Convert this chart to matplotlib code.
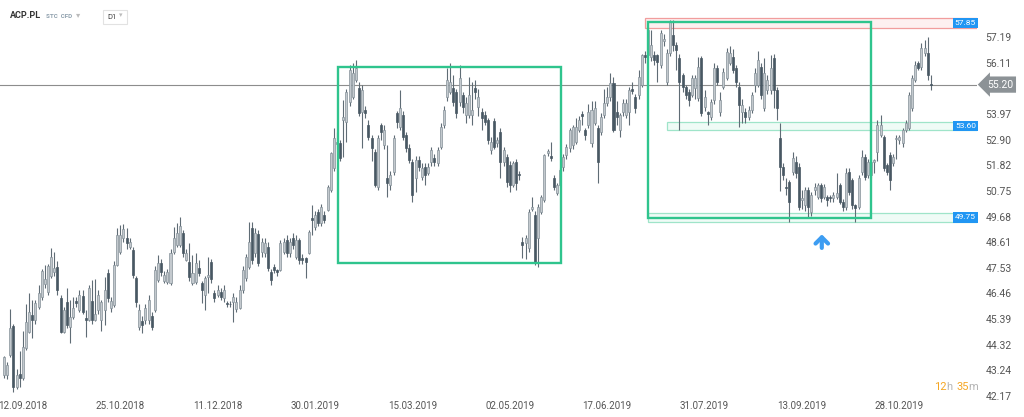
import matplotlib
matplotlib.use("Agg")
import matplotlib.pyplot as plt
from matplotlib.patches import Rectangle

plt.rcParams['font.family'] = ['Roboto', 'DejaVu Sans']

# daily candles ACP.PL, 04.09.2018 .. 08.11.2019
opens = [
    43.05, 43.05, 43.89, 45.10, 42.55, 43.09, 42.92, 44.18, 44.85, 45.56,
    45.35, 45.89, 46.31, 46.86, 46.52, 47.19, 47.36, 47.57, 46.27, 44.85,
    46.10, 45.06, 45.48, 46.14, 45.77, 46.35, 45.43, 45.35, 46.14, 45.35,
    45.77, 45.35, 45.77, 47.32, 45.85, 45.98, 47.65, 48.19, 48.78, 48.78,
    48.40, 48.28, 47.11, 45.06, 45.31, 45.35, 45.35, 45.52, 45.77, 47.02,
    47.73, 46.98, 46.94, 46.90, 48.19, 48.49, 48.49, 48.99, 47.86, 47.78,
    46.90, 46.94, 47.53, 46.90, 46.40, 47.15, 47.78, 46.48, 46.40, 46.52,
    46.27, 46.05, 46.04, 46.10, 45.81, 45.85, 46.61, 47.11, 47.57, 49.20,
    48.15, 48.95, 48.19, 48.15, 48.40, 47.36, 47.57, 47.44, 47.44, 48.19,
    48.70, 48.15, 48.78, 47.99, 48.70, 47.94, 47.94, 48.15, 49.62, 49.24,
    49.87, 49.41, 49.74, 49.95, 50.79, 51.71, 52.72, 52.76, 53.72, 53.63,
    54.47, 54.68, 55.39, 55.06, 54.05, 54.14, 53.51, 52.96, 52.38, 50.91,
    53.51, 52.67, 51.29, 51.00, 51.54, 54.01, 53.43, 53.93, 53.09, 52.55,
    51.96, 51.29, 52.04, 51.33, 51.75, 51.50, 51.96, 52.13, 51.92, 52.59,
    53.51, 54.68, 54.89, 55.06, 54.89, 54.47, 54.76, 53.93, 53.93, 53.93,
    55.06, 54.26, 54.05, 53.93, 53.72, 52.46, 53.67, 52.76, 53.22, 51.96,
    52.17, 51.84, 51.00, 51.96, 51.46, 48.61, 48.57, 48.36, 50.00, 49.74,
    48.78, 49.87, 50.37, 52.34, 52.20, 51.29, 50.66, 51.00, 51.75, 52.25,
    52.55, 52.67, 52.80, 53.30, 53.97, 53.30, 53.51, 52.76, 53.59, 53.38,
    53.22, 53.93, 54.43, 54.68, 55.27, 54.05, 53.30, 54.05, 53.93, 54.05,
    55.00, 54.68, 54.76, 55.18, 56.44, 56.44, 56.35, 56.44, 56.44, 56.02,
    57.03, 55.31, 56.52, 57.27, 56.86, 56.31, 55.60, 55.10, 54.89, 54.76,
    55.06, 54.64, 56.31, 54.26, 54.05, 53.84, 54.55, 55.89, 54.05, 55.10,
    55.48, 56.10, 56.35, 55.89, 55.10, 54.05, 54.05, 53.84, 54.14, 55.18,
    55.18, 55.94, 54.22, 54.97, 54.97, 56.31, 54.97, 52.96, 51.75, 50.91,
    51.12, 51.54, 51.96, 51.75, 50.37, 50.16, 50.79, 49.87, 50.79, 50.50,
    51.00, 50.50, 50.50, 50.50, 50.45, 50.50, 51.00, 50.29, 50.08, 51.54,
    51.21, 50.16, 50.08, 51.54, 52.17, 51.42, 51.42, 51.96, 52.38, 53.09,
    53.01, 51.84, 52.25, 51.92, 52.92, 52.88, 52.76, 53.30, 53.38, 54.22,
    55.39, 56.10, 55.94, 56.52, 56.52, 55.22,
]
highs = [
    43.85, 43.60, 45.80, 45.20, 43.30, 44.05, 44.90, 46.02, 46.48, 46.20,
    46.20, 46.81, 47.50, 47.65, 47.70, 48.36, 48.19, 47.82, 46.40, 45.90,
    46.69, 46.19, 46.30, 46.30, 46.61, 46.61, 45.77, 46.80, 47.02, 47.07,
    46.61, 46.20, 47.15, 47.50, 46.30, 47.80, 49.20, 49.33, 49.37, 49.20,
    48.80, 48.40, 47.20, 46.00, 45.50, 46.00, 46.40, 45.70, 47.60, 48.07,
    47.90, 47.40, 47.50, 48.30, 49.24, 49.41, 49.66, 49.10, 48.30, 48.57,
    48.07, 48.15, 47.86, 47.00, 47.20, 47.99, 47.90, 46.60, 46.80, 46.70,
    46.80, 46.15, 46.15, 46.50, 46.30, 46.80, 47.60, 48.10, 49.45, 49.45,
    49.20, 49.10, 48.80, 48.80, 48.60, 47.50, 47.70, 47.50, 48.70, 48.80,
    48.90, 48.80, 49.00, 48.90, 48.80, 48.10, 48.00, 49.10, 50.16, 49.90,
    50.00, 50.20, 49.90, 51.00, 52.40, 53.38, 53.20, 52.90, 54.55, 55.00,
    56.00, 56.10, 56.23, 55.30, 55.20, 54.30, 53.70, 53.10, 52.50, 53.10,
    53.60, 53.50, 52.67, 51.60, 53.10, 54.10, 54.97, 54.10, 53.20, 52.70,
    52.10, 52.20, 52.20, 51.90, 51.90, 51.90, 52.60, 52.30, 52.60, 53.60,
    54.30, 55.90, 56.10, 55.60, 55.00, 56.00, 54.90, 54.70, 55.50, 55.30,
    55.40, 55.00, 54.20, 54.10, 53.80, 53.00, 53.80, 53.00, 53.40, 52.60,
    52.30, 52.00, 52.00, 52.10, 51.60, 48.82, 48.90, 50.00, 50.50, 49.90,
    50.20, 50.60, 52.30, 52.50, 52.80, 51.40, 51.10, 51.70, 52.30, 52.70,
    53.40, 53.50, 53.80, 53.90, 54.10, 53.40, 54.40, 54.50, 54.50, 53.50,
    54.00, 55.00, 55.10, 55.68, 55.50, 54.50, 54.00, 54.60, 54.60, 55.10,
    55.30, 54.80, 55.80, 56.50, 56.60, 57.60, 57.50, 56.60, 56.50, 57.50,
    57.30, 56.70, 57.90, 57.90, 57.00, 56.50, 55.70, 55.20, 55.00, 55.60,
    55.60, 56.35, 56.40, 54.97, 54.10, 54.60, 56.10, 56.00, 54.90, 55.90,
    56.73, 56.80, 56.70, 56.00, 55.30, 54.60, 54.20, 54.30, 54.90, 55.90,
    56.60, 56.10, 56.30, 55.60, 56.44, 56.50, 55.10, 53.60, 51.90, 51.30,
    51.20, 52.38, 52.20, 51.90, 50.80, 50.90, 50.90, 50.70, 51.10, 51.10,
    51.10, 51.05, 50.60, 50.60, 50.70, 51.50, 51.10, 50.40, 51.70, 51.70,
    51.30, 50.20, 51.40, 52.46, 52.30, 52.10, 52.10, 52.10, 53.70, 53.93,
    53.10, 51.90, 52.40, 52.30, 53.10, 53.10, 53.40, 53.70, 54.90, 55.60,
    56.20, 56.20, 56.94, 57.07, 57.20, 55.60,
]
lows = [
    42.92, 42.90, 43.80, 42.34, 42.45, 42.55, 42.85, 44.10, 44.80, 44.60,
    45.20, 45.80, 46.20, 46.70, 46.40, 47.10, 47.20, 46.40, 44.80, 44.80,
    45.00, 44.39, 45.40, 45.90, 45.70, 45.60, 44.64, 45.30, 45.20, 45.30,
    45.60, 44.90, 45.14, 46.10, 45.70, 45.90, 47.60, 48.10, 48.60, 48.30,
    48.30, 47.10, 45.90, 44.95, 44.81, 45.20, 45.20, 44.95, 45.70, 46.95,
    47.20, 46.90, 46.85, 46.80, 48.10, 48.40, 48.40, 48.00, 47.80, 47.00,
    46.80, 46.85, 47.20, 46.06, 45.77, 46.50, 46.90, 46.10, 46.30, 46.20,
    46.10, 45.90, 45.90, 45.27, 45.70, 45.80, 46.50, 47.00, 47.50, 47.70,
    48.00, 47.60, 48.00, 48.00, 47.40, 46.80, 47.30, 47.20, 47.40, 48.10,
    48.00, 48.00, 48.30, 47.90, 47.70, 47.70, 47.11, 48.10, 48.91, 49.10,
    49.30, 49.30, 49.40, 49.90, 50.70, 51.60, 52.50, 52.00, 52.17, 52.80,
    54.30, 54.60, 55.30, 53.90, 52.55, 53.80, 52.90, 52.00, 50.90, 50.80,
    52.90, 52.50, 50.50, 50.80, 51.40, 53.40, 53.30, 52.90, 52.40, 51.90,
    50.29, 50.70, 51.60, 51.20, 51.00, 51.40, 51.80, 51.80, 51.80, 52.50,
    53.40, 54.50, 54.80, 54.30, 53.80, 54.30, 54.00, 53.60, 53.80, 53.50,
    54.60, 53.90, 53.30, 53.50, 52.70, 52.30, 52.50, 52.60, 51.30, 51.80,
    50.90, 50.70, 50.90, 50.80, 51.20, 47.94, 47.90, 48.20, 49.90, 47.65,
    47.57, 49.80, 50.30, 52.20, 52.00, 50.80, 50.60, 50.90, 51.60, 52.10,
    52.40, 52.50, 52.70, 53.20, 53.50, 52.90, 53.40, 52.60, 53.50, 51.08,
    53.10, 53.80, 54.30, 54.50, 53.20, 53.50, 53.00, 53.90, 53.80, 53.50,
    54.80, 54.00, 54.60, 55.10, 56.10, 56.30, 56.20, 56.00, 55.30, 55.90,
    56.80, 55.20, 56.40, 56.60, 55.80, 53.30, 54.90, 54.60, 54.30, 54.70,
    54.60, 54.50, 53.90, 54.10, 53.50, 53.70, 54.40, 55.20, 53.90, 55.00,
    55.40, 56.00, 55.70, 55.10, 53.43, 53.60, 53.59, 53.70, 54.00, 54.90,
    55.10, 54.60, 54.10, 54.80, 54.80, 54.22, 53.70, 50.75, 51.20, 50.60,
    49.45, 51.40, 51.30, 49.95, 50.00, 49.90, 49.66, 49.70, 50.60, 50.40,
    50.30, 50.40, 50.10, 50.30, 50.30, 50.40, 50.20, 49.90, 49.95, 50.60,
    50.00, 49.45, 50.00, 51.40, 51.20, 51.30, 51.30, 51.50, 52.00, 53.00,
    51.60, 51.40, 50.79, 51.80, 52.10, 52.70, 52.60, 53.20, 53.30, 54.10,
    55.30, 55.80, 55.80, 56.40, 55.40, 54.97,
]
closes = [
    43.80, 43.47, 45.02, 42.55, 43.05, 42.92, 44.22, 45.27, 45.68, 45.35,
    46.06, 46.48, 47.40, 47.07, 47.61, 47.99, 47.53, 46.61, 44.85, 45.77,
    45.14, 45.48, 45.85, 46.06, 46.40, 45.68, 45.35, 46.69, 45.35, 45.60,
    46.40, 46.10, 46.61, 46.27, 46.14, 47.65, 48.91, 48.91, 49.16, 48.57,
    48.61, 47.23, 46.10, 45.77, 45.14, 45.85, 46.19, 45.06, 47.44, 47.73,
    47.36, 47.23, 47.36, 48.15, 48.78, 48.99, 49.28, 48.15, 48.15, 47.15,
    47.32, 47.73, 47.32, 46.61, 47.11, 47.23, 47.07, 46.27, 46.61, 46.31,
    46.61, 46.02, 46.00, 46.31, 46.10, 46.61, 47.44, 47.99, 48.61, 47.86,
    48.99, 47.73, 48.61, 48.57, 47.53, 47.02, 47.44, 47.36, 48.57, 48.61,
    48.15, 48.61, 48.49, 48.70, 47.86, 47.86, 47.78, 49.03, 49.55, 49.74,
    49.41, 50.08, 49.53, 50.91, 52.34, 52.96, 52.80, 52.13, 53.84, 54.89,
    55.81, 55.68, 55.89, 54.01, 54.97, 54.01, 53.01, 52.55, 51.00, 52.96,
    53.22, 53.30, 51.08, 51.42, 52.96, 53.63, 54.22, 53.01, 52.55, 52.04,
    50.58, 52.04, 51.75, 51.71, 51.42, 51.75, 52.46, 51.96, 52.46, 53.43,
    54.14, 55.39, 55.31, 54.47, 54.01, 55.48, 54.26, 54.43, 54.76, 54.14,
    54.89, 54.68, 53.80, 53.63, 52.88, 52.80, 52.59, 52.88, 51.96, 52.46,
    51.12, 51.00, 51.92, 51.08, 51.40, 48.49, 48.78, 49.87, 50.08, 47.73,
    50.08, 50.50, 52.25, 52.42, 52.14, 50.91, 51.00, 51.63, 52.17, 52.59,
    53.30, 53.43, 53.43, 53.72, 53.90, 53.09, 54.05, 54.14, 54.22, 51.96,
    53.84, 54.43, 54.68, 55.27, 53.30, 53.84, 53.93, 54.43, 54.43, 54.97,
    54.93, 54.22, 55.52, 56.44, 56.35, 57.48, 56.86, 56.23, 56.14, 57.36,
    57.10, 56.52, 57.86, 56.86, 56.65, 55.31, 55.10, 54.76, 54.55, 55.48,
    55.48, 55.94, 54.01, 54.68, 53.97, 54.47, 55.89, 55.31, 54.55, 55.73,
    56.56, 56.52, 55.81, 55.31, 54.34, 54.34, 53.84, 54.14, 54.76, 55.68,
    56.23, 54.76, 55.68, 55.39, 55.89, 54.97, 54.22, 51.75, 51.42, 50.87,
    50.29, 52.13, 51.50, 50.08, 50.45, 50.79, 50.08, 50.58, 50.91, 51.00,
    50.45, 50.91, 50.37, 50.45, 50.58, 50.66, 50.29, 50.08, 51.50, 50.71,
    50.16, 50.04, 51.29, 52.17, 51.33, 51.96, 51.96, 52.04, 53.51, 53.51,
    51.71, 51.54, 51.21, 52.17, 52.96, 53.01, 53.30, 53.59, 54.76, 55.48,
    56.02, 55.89, 56.73, 56.73, 55.60, 55.20,
]

date_labels = ['12.09.2018', '25.10.2018', '11.12.2018', '30.01.2019', '15.03.2019',
               '02.05.2019', '17.06.2019', '31.07.2019', '13.09.2019', '28.10.2019']
date_bars = [6, 37, 68, 99, 130, 161, 192, 223, 254, 285]
price_ticks = [42.17, 43.24, 44.32, 45.39, 46.46, 47.53, 48.61, 49.68,
               50.75, 51.82, 52.90, 53.97, 56.11, 57.19]
last_price = 55.20

# levels marked on the chart
levels = {'57.85': (204, 57.58, 57.99, 'red'),
          '53.60': (211, 53.30, 53.65, 'green'),
          '49.75': (205, 49.45, 49.83, 'green')}
boxes = [(106.3, 177.3, 47.73, 55.94), (205.0, 275.9, 49.62, 57.82)]

fig = plt.figure(figsize=(10.24, 4.17), dpi=100)
ax = fig.add_axes([0, 19 / 417, 977 / 1024, 398 / 417])

x = list(range(len(closes)))
up_c = '#c3c9ce'
up_e = '#86929a'
dn_c = '#485863'
wick = '#5f6c75'

ax.vlines(x, lows, highs, color=wick, linewidth=0.8, zorder=2)
for i in x:
    o, c = opens[i], closes[i]
    bottom = min(o, c)
    h = max(abs(c - o), 0.04)
    if c >= o:
        ax.bar(i, h, bottom=bottom, width=0.64, color=up_c, edgecolor=up_e,
               linewidth=0.5, zorder=3)
    else:
        ax.bar(i, h, bottom=bottom, width=0.64, color=dn_c, edgecolor=dn_c,
               linewidth=0.5, zorder=3)

# zones
for name, (start, lo, hi, kind) in levels.items():
    if kind == 'red':
        fc, ec = '#fdf0f0', '#f19d9d'
    else:
        fc, ec = '#effbf6', '#9fe4c9'
    ax.add_patch(Rectangle((start, lo), 309.7 - start, hi - lo, facecolor=fc,
                           edgecolor=ec, linewidth=0.9, zorder=1))
    ax.text(0.999, (lo + hi) / 2, name, transform=ax.get_yaxis_transform(),
            ha='right', va='center', fontsize=6, color='white', zorder=6,
            bbox=dict(boxstyle='square,pad=0.25', fc='#2196f3', ec='none'))

# rectangles drawn by the analyst
for x0, x1, y0, y1 in boxes:
    ax.add_patch(Rectangle((x0, y0), x1 - x0, y1 - y0, fill=False,
                           edgecolor='#2fc48d', linewidth=1.7, zorder=4))

ax.axhline(last_price, color='#8d8d8d', linewidth=0.8, zorder=1)
ax.text(1.01, last_price, '%.2f' % last_price, transform=ax.get_yaxis_transform(),
        ha='left', va='center', fontsize=7.5, color='white', clip_on=False,
        bbox=dict(boxstyle='larrow,pad=0.3', fc='#8c9296', ec='none'))

ax.annotate('', xy=(260.3, 49.05), xytext=(260.3, 48.25),
            arrowprops=dict(arrowstyle='->,head_width=0.45,head_length=0.45',
                            color='#3d9df2', lw=3))

ax.set_xlim(-1.27, 309.7)
ax.set_ylim(42.086, 58.74)
ax.set_xticks(date_bars)
ax.set_xticklabels(date_labels)
ax.yaxis.tick_right()
ax.set_yticks(price_ticks)
ax.set_yticklabels(['%.2f' % p for p in price_ticks])
ax.tick_params(axis='both', length=0, labelsize=7.5, colors='#555555')
ax.tick_params(axis='x', pad=2, labelsize=7)
ax.tick_params(axis='y', pad=6)
for s in ax.spines.values():
    s.set_visible(False)

# header
fig.text(10 / 1024, 1 - 16 / 417, 'ACP.PL', fontsize=6.5, fontweight='bold',
         color='#333333', va='center')
fig.text(46 / 1024, 1 - 16 / 417, 'STC  CFD', fontsize=4.5, fontweight='bold',
         color='#8fa0ad', va='center')
fig.text(76 / 1024, 1 - 15 / 417, '\u25be', fontsize=6, color='#bbbbbb', va='center')
fig.add_artist(Rectangle((103 / 1024, 1 - 24 / 417), 24 / 1024, 14 / 417,
                         transform=fig.transFigure, fill=False,
                         edgecolor='#e2e2e2', linewidth=0.8))
fig.text(107 / 1024, 1 - 17 / 417, 'D1', fontsize=5.5, color='#444444', va='center')
fig.text(119 / 1024, 1 - 16 / 417, '\u25be', fontsize=5, color='#bbbbbb', va='center')

# countdown "12h 35m", pieces chained one after another
t = fig.text(934 / 1024, 1 - 390 / 417, '12', fontsize=8, color='#f5a623', va='baseline')
parts = [('h', '#b5b5b5', 0), ('35', '#f5a623', 2.5), ('m', '#b5b5b5', 0)]
for s, col, gap in parts:
    t = ax.annotate(s, xy=(1, 0), xycoords=t, xytext=(gap, 0),
                    textcoords='offset points', fontsize=8, color=col,
                    va='bottom', ha='left', annotation_clip=False)

plt.savefig('out.png', dpi=100)
